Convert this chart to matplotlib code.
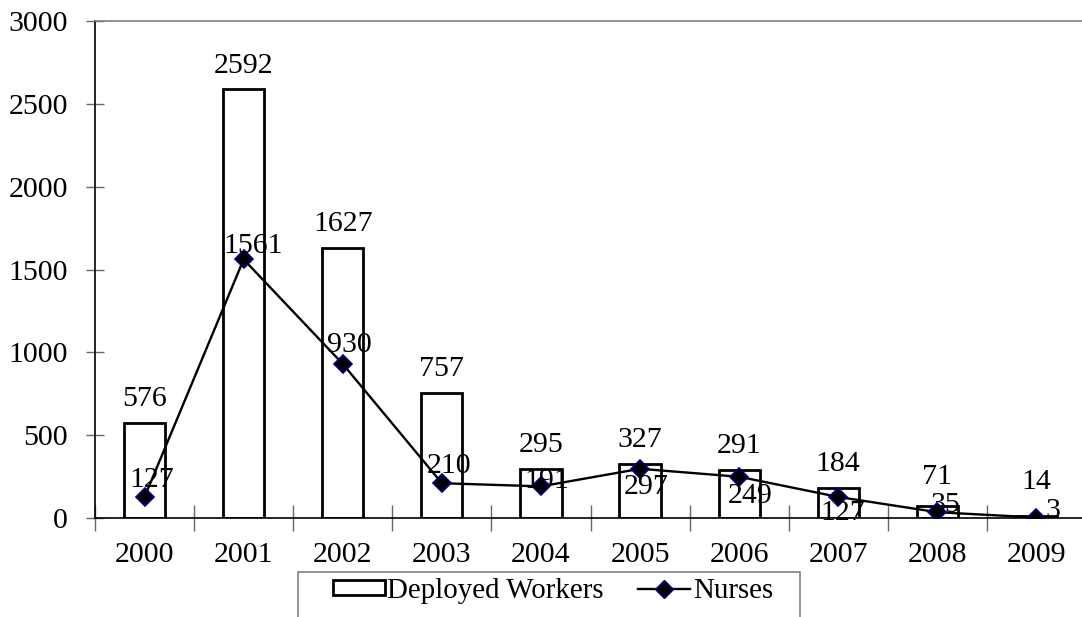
"""deployed workers vs nurses, 2000-2009"""
import numpy as np
import matplotlib
matplotlib.use("Agg")
import matplotlib.pyplot as plt
import matplotlib.patches as mpatches
from matplotlib.lines import Line2D

years = ["2000", "2001", "2002", "2003", "2004", "2005", "2006", "2007", "2008", "2009"]
deployed = [576, 2592, 1627, 757, 295, 327, 291, 184, 71, 14]
nurses = [127, 1561, 930, 210, 191, 297, 249, 127, 35, 3]

# label offsets (points), tuned by eye
bar_offsets = [12, 11.5, 12.5, 12, 12, 12, 12, 12, 15.8, 19.4]
nurse_offsets = [(5, 7.2), (6.5, 4.3), (5, 8.6), (5, 7.2), (4.3, -1.4),
                 (4.3, -18), (7.9, -18.7), (2.9, -16.6), (5.8, 0), (11.5, 0)]

plt.rcParams['font.family'] = ['Liberation Serif', 'DejaVu Serif']
fs = 21.5

fig = plt.figure(figsize=(10.82, 6.17), dpi=100)
ax = fig.add_axes([95/1082, 99/617, 991/1082, 497/617])

x = np.arange(len(years))
ax.bar(x, deployed, width=0.415, facecolor="white", edgecolor="black", linewidth=2.0, zorder=2)
ax.plot(x, nurses, color="black", linewidth=1.7, marker="D", markersize=9,
        markerfacecolor="black", markeredgecolor="#000080", markeredgewidth=1.2, zorder=3)

for i in range(len(years)):
    ax.annotate(str(deployed[i]), (x[i], deployed[i]), xytext=(0, bar_offsets[i]), textcoords="offset points",
                ha="center", va="baseline", fontsize=fs, zorder=4)
    ax.annotate(str(nurses[i]), (x[i], nurses[i]), xytext=nurse_offsets[i], textcoords="offset points",
                ha="center", va="baseline", fontsize=fs, zorder=4)

ax.set_xlim(-0.5, len(years) - 0.5)
ax.set_ylim(0, 3000)
ax.set_yticks(range(0, 3001, 500))
ax.set_xticks(x)
ax.set_xticklabels(years)
ax.set_xticks(np.arange(-0.5, len(years), 1.0), minor=True)

ax.tick_params(axis="y", direction="inout", length=13, width=1, color="#666666",
               labelsize=fs, pad=13)
ax.tick_params(axis="x", which="major", length=0, labelsize=fs, pad=17)
ax.tick_params(axis="x", which="minor", direction="inout", length=19, width=1, color="#666666")

ax.spines["right"].set_visible(False)
ax.spines["top"].set_color("#808080")
ax.spines["top"].set_linewidth(1.2)
ax.spines["left"].set_color("black")
ax.spines["left"].set_linewidth(1.2)
ax.spines["bottom"].set_color("black")
ax.spines["bottom"].set_linewidth(1.2)

# legend box drawn by hand so the padding matches
frame = mpatches.Rectangle((298/1082, -0.05), 502/1082, 0.05 + 45/617, transform=fig.transFigure,
                           facecolor="white", edgecolor="#808080", linewidth=1.2)
fig.patches.append(frame)

legend_elements = [mpatches.Patch(facecolor="white", edgecolor="black", linewidth=2.0,
                                  label="Deployed Workers"),
                   Line2D([0], [0], color="black", linewidth=1.7, marker="D", markersize=9,
                          markerfacecolor="black", markeredgecolor="#000080", label="Nurses")]
fig.legend(handles=legend_elements, loc="upper left", bbox_to_anchor=(333/1082, 39/617),
           ncol=2, frameon=False, fontsize=20.8, borderpad=0, borderaxespad=0,
           handlelength=1.8, handleheight=0.45, handletextpad=0.08, columnspacing=1.2)

plt.savefig("out.png", dpi=100)
